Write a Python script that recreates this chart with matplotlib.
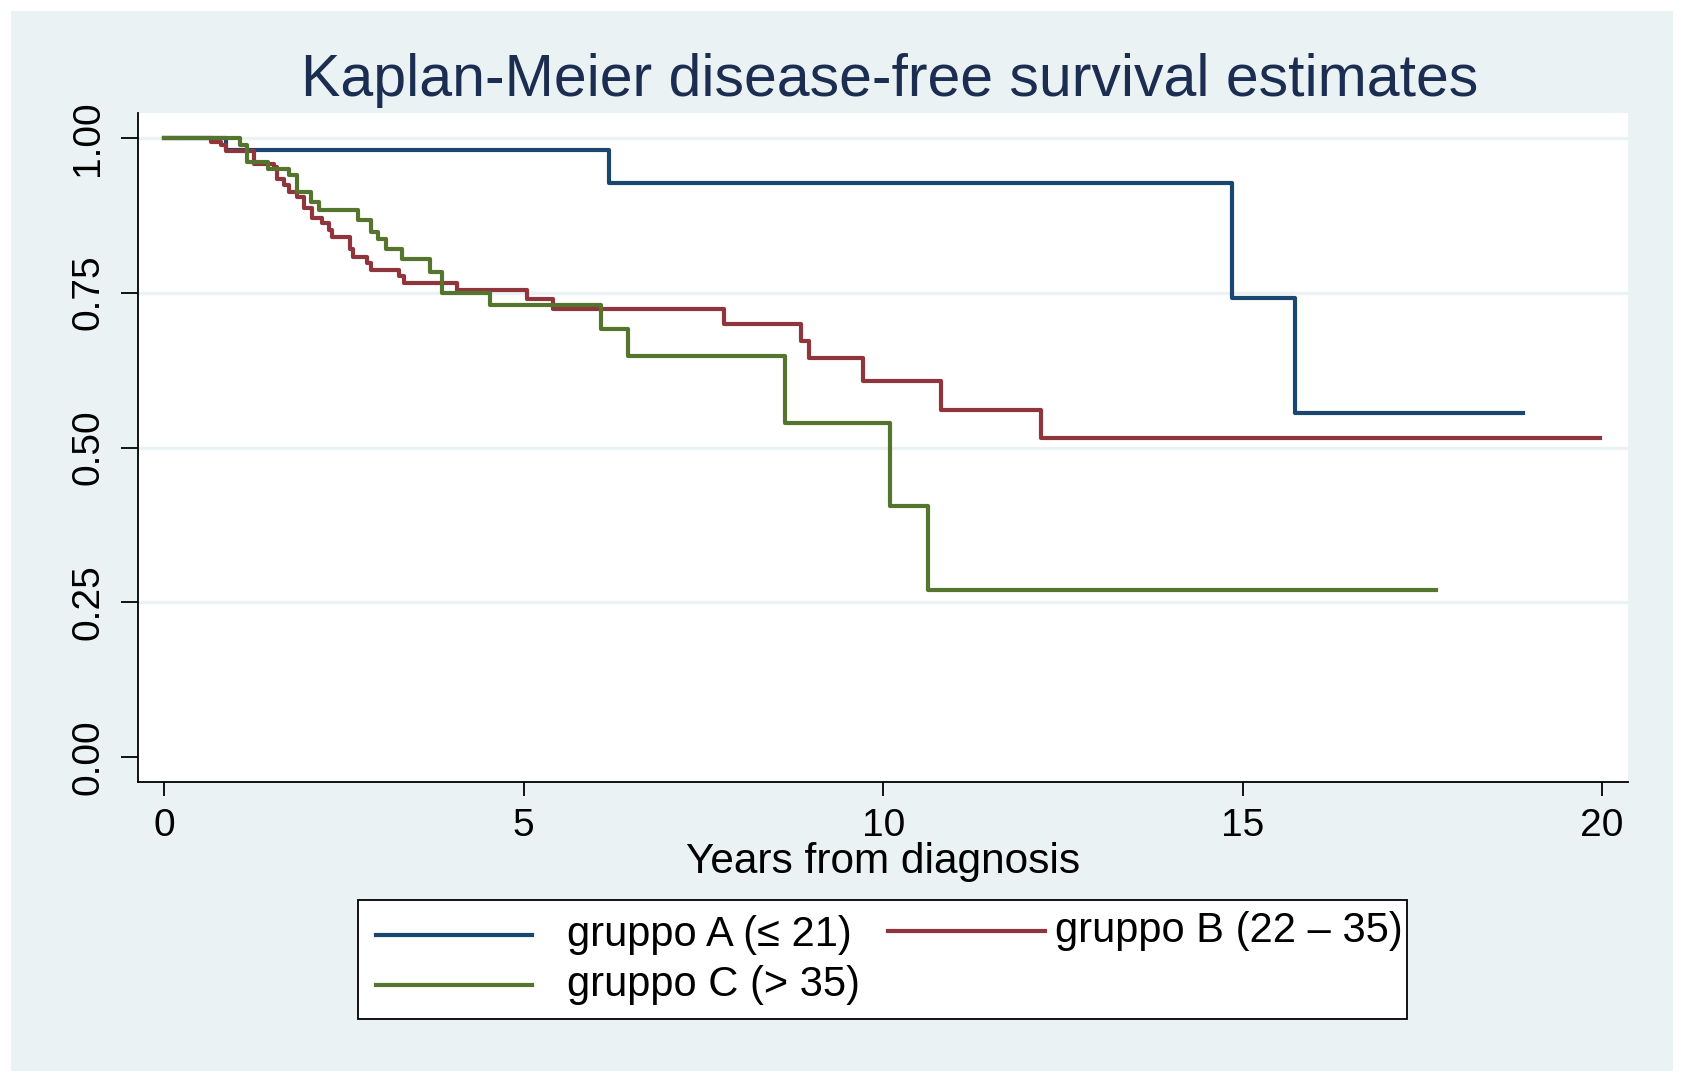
import matplotlib
matplotlib.use("Agg")
import matplotlib.pyplot as plt
from matplotlib.patches import Rectangle
from matplotlib.lines import Line2D

plt.rcParams["font.family"] = ["Liberation Sans", "DejaVu Sans"]

# ---- data (years, survival probability)
t_a = [0, 0.86, 6.19, 14.85, 15.73, 18.9]
s_a = [1.0, 0.981, 0.927, 0.742, 0.556, 0.556]

t_b = [0, 0.65, 0.79, 0.86, 1.25, 1.53, 1.57, 1.67, 1.74, 1.85, 1.94, 2.06,
       2.20, 2.29, 2.34, 2.58, 2.63, 2.82, 2.87, 3.26, 3.33, 4.07, 5.04, 5.41,
       7.79, 8.85, 8.97, 9.72, 10.81, 12.20, 19.97]
s_b = [1.0, 0.993, 0.988, 0.979, 0.958, 0.953, 0.934, 0.923, 0.913, 0.905,
       0.886, 0.870, 0.863, 0.851, 0.840, 0.821, 0.808, 0.798, 0.786, 0.777,
       0.766, 0.755, 0.739, 0.723, 0.700, 0.672, 0.645, 0.608, 0.560, 0.515,
       0.515]

t_c = [0, 1.05, 1.15, 1.44, 1.74, 1.84, 2.04, 2.15, 2.69, 2.88, 2.97, 3.09,
       3.31, 3.70, 3.87, 4.53, 6.07, 6.45, 8.64, 10.09, 10.63, 17.69]
s_c = [1.0, 0.988, 0.961, 0.950, 0.940, 0.913, 0.896, 0.883, 0.868, 0.848,
       0.836, 0.820, 0.804, 0.784, 0.749, 0.730, 0.692, 0.648, 0.539, 0.405,
       0.270, 0.270]

labels = ["gruppo A (\u2264 21)", "gruppo B (22 \u2013 35)", "gruppo C (> 35)"]
xticks = [0, 5, 10, 15, 20]
yticks = [0.00, 0.25, 0.50, 0.75, 1.00]

NAVY, MAROON, GREEN = "#1a476f", "#90353b", "#55752f"
BG = "#eaf2f3"

W, H = 1685, 1083
fig = plt.figure(figsize=(W / 100, H / 100), dpi=100, facecolor="white")


def fx(px):
    return px / W


def fy(py):
    return 1 - py / H


fig.add_artist(Rectangle((fx(11), fy(1071)), fx(1673) - fx(11), fy(11) - fy(1071),
                         transform=fig.transFigure, fc=BG, ec="none", zorder=0))

ax = fig.add_axes([fx(138), fy(782), fx(1628) - fx(138), fy(113) - fy(782)])
ax.set_facecolor("white")
ax.set_xlim(-0.365, 20.36)
ax.set_ylim(-0.04, 1.04)
for y in yticks[1:]:
    ax.axhline(y, color=BG, lw=2.4, zorder=1)

ax.step(t_a, s_a, where="post", color=NAVY, lw=3.0, zorder=3)
ax.step(t_b, s_b, where="post", color=MAROON, lw=3.0, zorder=3)
ax.step(t_c, s_c, where="post", color=GREEN, lw=3.0, zorder=4)

for side in ("top", "right"):
    ax.spines[side].set_visible(False)
for side in ("left", "bottom"):
    ax.spines[side].set_color("black")
    ax.spines[side].set_linewidth(1.3)
ax.set_xticks(xticks)
ax.set_xticklabels([str(x) for x in xticks], fontsize=28)
ax.set_yticks(yticks)
ax.set_yticklabels([f"{y:.2f}" for y in yticks], fontsize=28, rotation=90, va="center")
ax.tick_params(axis="x", direction="out", length=10, width=1.3, color="black", pad=9)
ax.tick_params(axis="y", direction="out", length=12, width=1.3, color="black", pad=11)
ax.set_xlabel("Years from diagnosis", fontsize=30.5, va="center")
ax.xaxis.set_label_coords(0.5, -(862 - 782) / 669)

fig.text(fx(890), fy(81), "Kaplan-Meier disease-free survival estimates",
         ha="center", va="center", fontsize=42.5, color="#1c2d52")

# ---- legend box (Stata-style layout)
fig.add_artist(Rectangle((fx(358), fy(1019)), fx(1407) - fx(358), fy(900) - fy(1019),
                         transform=fig.transFigure, fc="white", ec="black", lw=1.3,
                         zorder=5))
entries = [(NAVY, 376, 532, 935, 567, labels[0]),
           (MAROON, 888, 1045, 931, 1055, labels[1]),
           (GREEN, 376, 532, 985, 567, labels[2])]
for col, x0, x1, yy, xt, lab in entries:
    fig.add_artist(Line2D([fx(x0), fx(x1)], [fy(yy), fy(yy)], color=col, lw=3.0,
                          transform=fig.transFigure, zorder=6))
    fig.text(fx(xt), fy(yy), lab, ha="left", va="center", fontsize=30, zorder=6)

fig.savefig("out.png", dpi=100, facecolor="white")
